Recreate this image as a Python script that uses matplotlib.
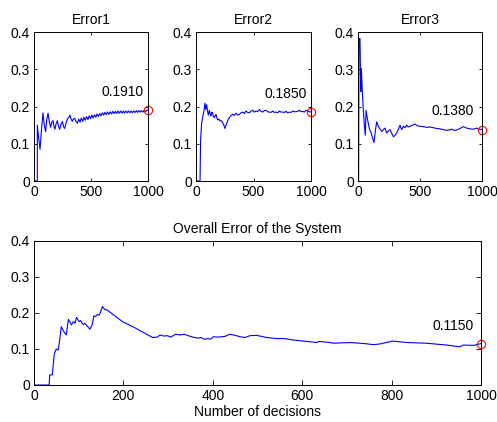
import matplotlib
matplotlib.use("Agg")
import matplotlib.pyplot as plt

plt.rcParams['font.family'] = ['Liberation Sans', 'DejaVu Sans']
plt.rcParams['font.size'] = 10

# ---------------- data ----------------
titles = ["Error1", "Error2", "Error3"]
overall_title = "Overall Error of the System"
xlabel_text = "Number of decisions"

e1_x = [0, 29, 29, 40, 53, 66, 79, 90, 102, 112, 123, 135, 146, 156, 167, 176, 184, 195,
        205, 215, 225, 237, 249, 259, 269, 280, 292, 304, 316, 326, 336, 346, 357, 368, 380,
        392, 404, 415, 427, 438, 450, 461, 473, 484, 496, 507, 519, 530, 542, 553, 565, 576,
        588, 599, 611, 622, 634, 645, 657, 668, 680, 691, 703, 714, 726, 737, 749, 760, 772,
        783, 795, 806, 818, 829, 841, 852, 864, 875, 887, 898, 910, 921, 933, 944, 956, 967,
        979, 990, 1000]
e1_y = [0, 0, 0.150, 0.118, 0.085, 0.140, 0.183, 0.150, 0.132, 0.165, 0.182, 0.158, 0.144,
        0.158, 0.162, 0.145, 0.139, 0.155, 0.162, 0.147, 0.139, 0.152, 0.160, 0.146, 0.141,
        0.155, 0.166, 0.170, 0.177, 0.166, 0.160, 0.167, 0.168, 0.160, 0.155,
        0.166, 0.158, 0.169, 0.160, 0.171, 0.163, 0.173, 0.165, 0.175, 0.167, 0.177, 0.169,
        0.178, 0.171, 0.180, 0.173, 0.181, 0.175, 0.183, 0.177, 0.184, 0.178, 0.185, 0.179,
        0.186, 0.180, 0.187, 0.181, 0.187, 0.181, 0.188, 0.182, 0.188, 0.182, 0.188, 0.182,
        0.188, 0.183, 0.188, 0.183, 0.188, 0.183, 0.188, 0.184, 0.189, 0.184, 0.189, 0.185,
        0.189, 0.185, 0.190, 0.186, 0.190, 0.191]

e2_x = [0, 35, 40, 49, 60, 70, 78, 85, 93, 100, 107, 116, 123, 130, 138, 145, 152, 160, 167,
        174, 181, 188, 199, 209, 220, 232, 242, 252, 261, 270, 280, 290, 305, 319, 334, 348,
        362, 377, 391, 406, 420, 435, 449, 464, 478, 493, 507, 522, 536, 551, 565, 580, 594,
        609, 623, 638, 652, 667, 681, 696, 710, 725, 739, 754, 768, 783, 797, 812, 826, 841,
        855, 870, 884, 899, 913, 928, 942, 957, 971, 986, 1000]
e2_y = [0, 0, 0.110, 0.155, 0.175, 0.190, 0.209, 0.192, 0.205, 0.188, 0.177, 0.190, 0.180,
        0.174, 0.185, 0.183, 0.172, 0.170, 0.176, 0.179, 0.170, 0.164, 0.166, 0.161, 0.162,
        0.157, 0.150, 0.141, 0.150, 0.157, 0.165, 0.170, 0.176, 0.179, 0.176, 0.182, 0.177,
        0.179, 0.183, 0.185, 0.181, 0.188, 0.184, 0.183, 0.187, 0.190, 0.185, 0.188, 0.186,
        0.192, 0.187, 0.185, 0.189, 0.190, 0.186, 0.185, 0.184, 0.188, 0.184, 0.185, 0.183,
        0.188, 0.185, 0.185, 0.184, 0.187, 0.183, 0.185, 0.184, 0.188, 0.186, 0.186, 0.187,
        0.190, 0.186, 0.187, 0.185, 0.190, 0.188, 0.186, 0.185]

e3_x = [0, 5, 8, 16, 22, 27, 35, 43, 51, 59, 65, 74, 83, 92, 102, 115, 129, 140, 151, 160,
        172, 181, 191, 205, 218, 225, 231, 245, 258, 272, 285, 298, 312, 325, 339, 352, 366,
        379, 392, 405, 419, 440, 460, 480, 500, 527, 554, 581, 608, 635, 661, 688, 715, 735,
        756, 776, 796, 823, 850, 876, 903, 930, 957, 980, 1000]
e3_y = [0, 0, 0.383, 0.383, 0.240, 0.302, 0.240, 0.190, 0.150, 0.123, 0.190, 0.170, 0.155,
        0.140, 0.133, 0.118, 0.103, 0.135, 0.159, 0.150, 0.142, 0.138, 0.133, 0.138, 0.142,
        0.135, 0.129, 0.134, 0.138, 0.128, 0.119, 0.122, 0.129, 0.138, 0.150, 0.138, 0.147,
        0.143, 0.150, 0.145, 0.147, 0.150, 0.153, 0.148, 0.147, 0.146, 0.144, 0.145, 0.143,
        0.141, 0.140, 0.138, 0.136, 0.137, 0.139, 0.136, 0.137, 0.141, 0.146, 0.142, 0.140,
        0.139, 0.142, 0.139, 0.138]

ov_x = [0, 34, 35, 41, 45, 47, 50, 54, 57, 61, 66, 72, 77, 84, 88, 92, 95, 101, 104, 110,
        114, 125, 130, 134, 138, 142, 146, 149, 153, 158, 164, 198, 224, 265, 276, 282, 290,
        298, 306, 317, 327, 336, 352, 367, 373, 382, 389, 395, 401, 412, 427, 438, 450, 461,
        472, 483, 498, 520, 543, 560, 580, 610, 632, 638, 662, 670, 707, 740, 759, 774, 802,
        834, 878, 923, 953, 960, 983, 1000]
ov_y = [0, 0, 0.028, 0.028, 0.083, 0.092, 0.100, 0.097, 0.120, 0.162, 0.150, 0.139, 0.182,
        0.167, 0.176, 0.172, 0.188, 0.176, 0.179, 0.168, 0.171, 0.155, 0.167, 0.192, 0.190,
        0.196, 0.194, 0.203, 0.218, 0.210, 0.208, 0.176, 0.160, 0.132, 0.133, 0.139, 0.136,
        0.137, 0.133, 0.141, 0.139, 0.141, 0.134, 0.130, 0.132, 0.127, 0.129, 0.127, 0.134,
        0.133, 0.135, 0.141, 0.138, 0.134, 0.132, 0.137, 0.138, 0.132, 0.129, 0.129, 0.125,
        0.121, 0.118, 0.121, 0.118, 0.116, 0.118, 0.115, 0.112, 0.114, 0.122, 0.118, 0.116,
        0.111, 0.106, 0.111, 0.110, 0.115]

final_values = [0.1910, 0.1850, 0.1380, 0.1150]

top_xticks = [0, 500, 1000]
bottom_xticks = [0, 200, 400, 600, 800, 1000]
yticks = [0, 0.1, 0.2, 0.3, 0.4]
ytick_labels = ["0", "0.1", "0.2", "0.3", "0.4"]

# ---------------- figure ----------------
W, H = 497, 422
fig = plt.figure(figsize=(W / 100, H / 100), dpi=100)


def px_axes(left, top, right, bottom):
    return fig.add_axes([left / W, 1 - bottom / H, (right - left) / W, (bottom - top) / H])


def style(ax, xt, ticklen):
    ax.set_xlim(0, 1000)
    ax.set_ylim(0, 0.4)
    ax.set_xticks(xt)
    ax.set_xticklabels([str(v) for v in xt])
    ax.set_yticks(yticks)
    ax.set_yticklabels(ytick_labels)
    ax.tick_params(direction='in', length=ticklen, width=0.6, top=True, right=True,
                   labelsize=10, pad=3, colors='black')
    for s in ax.spines.values():
        s.set_linewidth(0.7)
        s.set_color('black')


top_boxes = [(34, 32, 148, 181), (196, 32, 311, 181), (358, 32, 482, 181)]
series = [(e1_x, e1_y), (e2_x, e2_y), (e3_x, e3_y)]
text_x = [780, 781, 765]

for i, (box, (xs, ys)) in enumerate(zip(top_boxes, series)):
    ax = px_axes(*box)
    ax.plot(xs, ys, color=(0, 0, 1), lw=0.8)
    ax.plot([xs[-1]], [final_values[i]], 'o', ms=6, mfc='none', mec='red', mew=0.8,
            clip_on=False)
    ax.text(text_x[i], final_values[i] + 0.038, f"{final_values[i]:.4f}", ha='center',
            va='baseline', fontsize=10)
    ax.set_title(titles[i], fontsize=10, pad=6)
    style(ax, top_xticks, 2)

ax = px_axes(34, 241, 481, 385)
ax.plot(ov_x, ov_y, color=(0, 0, 1), lw=0.8)
ax.plot([ov_x[-1]], [final_values[3]], 'o', ms=6, mfc='none', mec='red', mew=0.8,
        clip_on=False)
ax.text(938, final_values[3] + 0.038, f"{final_values[3]:.4f}", ha='center',
        va='baseline', fontsize=10)
ax.set_title(overall_title, fontsize=10, pad=6)
ax.set_xlabel(xlabel_text, fontsize=10, labelpad=1)
style(ax, bottom_xticks, 3.5)

fig.savefig("out.png", dpi=100)
